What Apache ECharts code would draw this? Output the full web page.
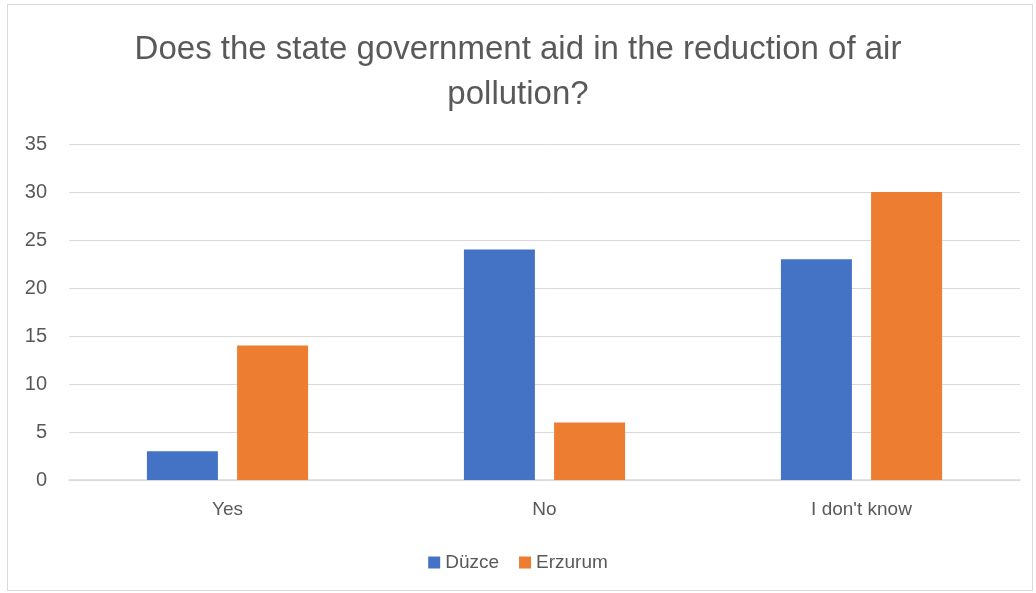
<!DOCTYPE html>
<html>
<head>
<meta charset="utf-8">
<script src="https://cdn.jsdelivr.net/npm/echarts@6/dist/echarts.min.js"></script>
<style>
  html, body { margin: 0; padding: 0; background: #fff; }
  #chart { width: 1036px; height: 593px; }
</style>
</head>
<body>
<div id="chart"></div>
<script>
const categories = ['Yes', 'No', "I don't know"];
const duzce = [3, 24, 23];
const erzurum = [14, 6, 30];
const seriesNames = ['Düzce', 'Erzurum'];

const font = "'Liberation Sans', 'Open Sans', sans-serif";
const chart = echarts.init(document.getElementById('chart'));

chart.setOption({
  animation: false,
  textStyle: { fontFamily: font },
  title: {
    text: 'Does the state government aid in the reduction of air\npollution?',
    left: 'center',
    top: 22,
    textStyle: { fontSize: 33, fontWeight: 'normal', color: '#595959', lineHeight: 45, fontFamily: font }
  },
  legend: {
    bottom: 16,
    left: 'center',
    itemWidth: 12,
    itemHeight: 12,
    itemGap: 20,
    icon: 'rect',
    textStyle: { fontSize: 19, color: '#595959', fontFamily: font },
    data: seriesNames
  },
  graphic: [{
    type: 'rect',
    shape: { x: 7.5, y: 4.5, width: 1025, height: 586 },
    style: { fill: 'none', stroke: '#d9d9d9', lineWidth: 1 },
    silent: true
  }],
  grid: { left: 69, right: 16, top: 144, bottom: 113 },
  xAxis: {
    type: 'category',
    data: categories,
    axisTick: { show: false },
    axisLine: { lineStyle: { color: '#d9d9d9', width: 1.5 } },
    axisLabel: { fontSize: 19, color: '#595959', margin: 20 }
  },
  yAxis: {
    type: 'value',
    min: 0,
    max: 35,
    interval: 5,
    axisLine: { show: false },
    axisTick: { show: false },
    splitLine: { lineStyle: { color: '#d9d9d9', width: 1 } },
    axisLabel: { fontSize: 20, color: '#595959', margin: 22 }
  },
  series: [
    {
      name: seriesNames[0],
      type: 'bar',
      data: duzce,
      barWidth: 71,
      barGap: '27%',
      itemStyle: { color: '#4472c4' }
    },
    {
      name: seriesNames[1],
      type: 'bar',
      data: erzurum,
      barWidth: 71,
      itemStyle: { color: '#ed7d31' }
    }
  ]
});
</script>
</body>
</html>
